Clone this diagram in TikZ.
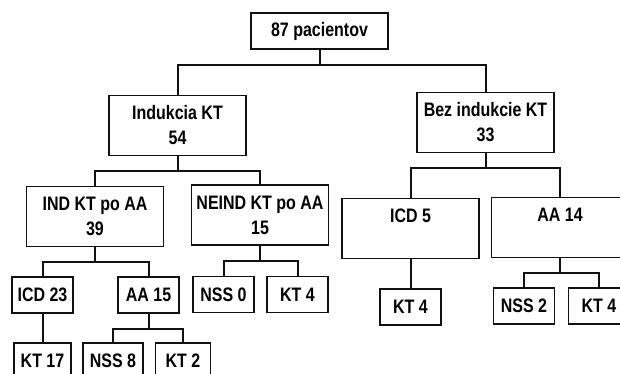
\documentclass[tikz,border=0pt]{standalone}
\usepackage{fontspec}
\setmainfont{Liberation Sans}[FakeStretch=0.82]
\usepackage{tikz}
\definecolor{boxblack}{HTML}{111111}
\tikzset{
    box/.style={draw=boxblack, line width=1.2pt, inner sep=0pt, align=center,
        font=\fontsize{19.5}{25}\selectfont\bfseries},
    bigbox/.style={box, minimum width=137pt, minimum height=60pt},
    smallbox/.style={box, minimum width=61pt, minimum height=36pt},
    link/.style={boxblack, line width=2pt},
}

\begin{document}
\begin{tikzpicture}[x=1pt,y=-1pt]
    \useasboundingbox (0,0) rectangle (620,374);
    \clip (0,0) rectangle (620,374);

    \node[box, minimum width=137pt, minimum height=36pt] (root) at (319.5,31) {87 pacientov};

    \node[bigbox] (ind) at (177.5,125.5) {Indukcia KT\\54};
    \node[bigbox] (bez) at (485.5,122.5) {Bez indukcie KT\\33};

    \node[bigbox] (indaa) at (95,216.5) {IND KT po AA\\39};
    \node[bigbox] (neindaa) at (260,215) {NEIND KT po AA\\15};
    \node[bigbox] (icd5) at (410.5,228.5) {ICD 5\\\phantom{0}};
    \node[bigbox] (aa14) at (560,227.5) {AA 14\\\phantom{0}};

    \node[smallbox] (icd23) at (42.5,295) {ICD 23};
    \node[smallbox] (aa15) at (148.5,295) {AA 15};
    \node[smallbox] (nss0) at (223.5,294.5) {NSS 0};
    \node[smallbox] (kt4a) at (297.5,294.5) {KT 4};
    \node[smallbox] (kt4b) at (410.5,307) {KT 4};
    \node[smallbox] (nss2) at (524,306) {NSS 2};
    \node[smallbox] (kt4c) at (599,306) {KT 4};

    \node[smallbox, minimum width=57pt] (kt17) at (42.5,361) {KT 17};
    \node[smallbox, minimum width=60pt] (nss8) at (113,361) {NSS 8};
    \node[smallbox, minimum width=55pt] (kt2) at (183,361) {KT 2};

    % tree links
    \draw[link] (root.south) -- ++(0,15) -| (ind.north);
    \draw[link] (root.south) -- ++(0,15) -| (bez.north);

    \draw[link] (ind.south) -- ++(0,15) -| (indaa.north);
    \draw[link] (ind.south) -- ++(0,15) -| (neindaa.north);
    \draw[link] (bez.south) -- ++(0,15) -| (icd5.north);
    \draw[link] (bez.south) -- ++(0,15) -| (aa14.north);

    \draw[link] (indaa.south) -- ++(0,15) -| (icd23.north);
    \draw[link] (indaa.south) -- ++(0,15) -| (aa15.north);
    \draw[link] (neindaa.south) -- ++(0,15) -| (nss0.north);
    \draw[link] (neindaa.south) -- ++(0,15) -| (kt4a.north);
    \draw[link] (icd5.south) -- (kt4b.north);
    \draw[link] (aa14.south) -- ++(0,15) -| (nss2.north);
    \draw[link] (aa14.south) -- ++(0,15) -| (kt4c.north);

    \draw[link] (icd23.south) -- (kt17.north);
    \draw[link] (aa15.south) -- ++(0,15) -| (nss8.north);
    \draw[link] (aa15.south) -- ++(0,15) -| (kt2.north);
\end{tikzpicture}
\end{document}
